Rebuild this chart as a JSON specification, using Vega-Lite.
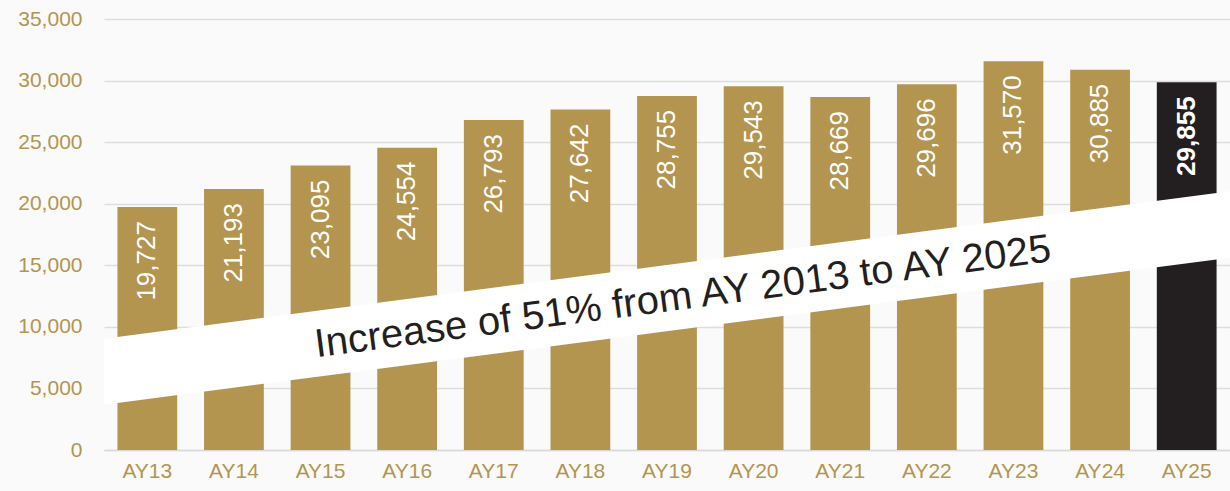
{
  "$schema": "https://vega.github.io/schema/vega-lite/v6.json",
  "width": 1126,
  "height": 431,
  "autosize": {"type": "none"},
  "padding": {"left": 104, "top": 19, "right": 0, "bottom": 41},
  "background": "#FAFAFA",
  "config": {
    "view": {"stroke": null},
    "font": "Liberation Sans",
    "axis": {"labelFontSize": 21, "labelColor": "#B39550", "labelFont": "Liberation Sans", "ticks": false, "title": null},
    "axisX": {"labelAngle": 0, "labelPadding": 10, "domainColor": "#D9D9D9", "domainWidth": 1.5, "grid": false},
    "axisY": {"domain": false, "labelPadding": 22, "gridColor": "#DDDDDD", "gridWidth": 1.5}
  },
  "datasets": {
    "bars": [
      {"year": "AY13", "students": 19727, "group": "past"},
      {"year": "AY14", "students": 21193, "group": "past"},
      {"year": "AY15", "students": 23095, "group": "past"},
      {"year": "AY16", "students": 24554, "group": "past"},
      {"year": "AY17", "students": 26793, "group": "past"},
      {"year": "AY18", "students": 27642, "group": "past"},
      {"year": "AY19", "students": 28755, "group": "past"},
      {"year": "AY20", "students": 29543, "group": "past"},
      {"year": "AY21", "students": 28669, "group": "past"},
      {"year": "AY22", "students": 29696, "group": "past"},
      {"year": "AY23", "students": 31570, "group": "past"},
      {"year": "AY24", "students": 30885, "group": "past"},
      {"year": "AY25", "students": 29855, "group": "current"}
    ],
    "band": [
      {"pos": 0, "low": 3680, "high": 9042},
      {"pos": 1, "low": 15622, "high": 21008}
    ],
    "note": [
      {"pos": 0.514, "value": 12400, "text": "Increase of 51% from AY 2013 to AY 2025"}
    ]
  },
  "layer": [
    {
      "data": {"name": "bars"},
      "encoding": {
        "x": {
          "field": "year", "type": "ordinal", "sort": null,
          "scale": {"paddingInner": 0.31, "paddingOuter": 0.155},
          "axis": {"title": null, "labelAngle": 0}
        },
        "y": {
          "field": "students", "type": "quantitative",
          "scale": {"domain": [0, 35000]},
          "axis": {"title": null, "values": [0, 5000, 10000, 15000, 20000, 25000, 30000, 35000],
                   "labelExpr": "format(datum.value, ',')"}
        }
      },
      "layer": [
        {
          "mark": {"type": "bar"},
          "encoding": {
            "color": {
              "field": "group", "type": "nominal",
              "scale": {"domain": ["past", "current"], "range": ["#B39550", "#231F20"]},
              "legend": null
            }
          }
        },
        {
          "transform": [{"filter": "datum.group === 'past'"}],
          "mark": {"type": "text", "angle": -90, "align": "right", "baseline": "middle",
                   "dx": -14, "fontSize": 26, "color": "#FFFFFF", "font": "Liberation Sans"},
          "encoding": {
            "text": {"field": "students", "type": "quantitative", "format": ","}
          }
        },
        {
          "transform": [{"filter": "datum.group === 'current'"}],
          "mark": {"type": "text", "angle": -90, "align": "right", "baseline": "middle",
                   "dx": -14, "fontSize": 26, "fontWeight": "bold", "color": "#FFFFFF", "font": "Liberation Sans"},
          "encoding": {
            "text": {"field": "students", "type": "quantitative", "format": ","}
          }
        }
      ]
    },
    {
      "encoding": {
        "x": {"field": "pos", "type": "quantitative", "scale": {"domain": [0, 1], "nice": false, "zero": false}, "axis": null}
      },
      "layer": [
        {
          "data": {"name": "band"},
          "mark": {"type": "area", "color": "#FFFFFF", "opacity": 1},
          "encoding": {
            "y": {"field": "low", "type": "quantitative", "scale": {"domain": [0, 35000]}, "axis": null},
            "y2": {"field": "high"}
          }
        },
        {
          "data": {"name": "note"},
          "mark": {"type": "text", "angle": -7.44, "align": "center", "baseline": "middle",
                   "fontSize": 40, "color": "#231F20", "font": "Liberation Sans"},
          "encoding": {
            "y": {"field": "value", "type": "quantitative", "scale": {"domain": [0, 35000]}, "axis": null},
            "text": {"field": "text"}
          }
        }
      ]
    }
  ],
  "resolve": {"scale": {"x": "independent", "y": "independent"}, "axis": {"x": "independent", "y": "independent"}}
}
